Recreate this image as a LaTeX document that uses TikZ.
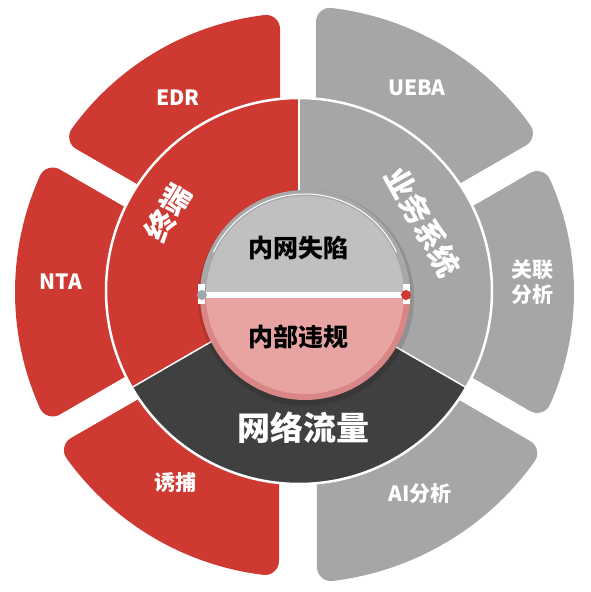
\documentclass[tikz,border=0pt]{standalone}
\usepackage{fontspec}
\newfontfamily\cjk{Noto Sans CJK SC}
\definecolor{petred}{RGB}{206,58,50}
\definecolor{petgray}{RGB}{166,166,166}
\definecolor{ringgray}{RGB}{166,166,166}
\definecolor{ringdark}{RGB}{64,64,64}
\definecolor{topgray}{RGB}{192,192,192}
\definecolor{rimgray}{RGB}{168,168,168}
\definecolor{botpink}{RGB}{232,164,163}
\definecolor{rimpink}{RGB}{218,134,134}
\definecolor{dotgray}{RGB}{160,168,172}
\newcommand\petalshape[6]{%
  \pgfmathsetmacro\petR{#6-14}%
  \pgfmathsetmacro\petA{#2+asin((#3+14)/\petR)}%
  \pgfmathsetmacro\petB{#4-asin((#5+14)/\petR)}%
  \pgfmathsetmacro\petC{#2+asin((#3+14)/170)}%
  \pgfmathsetmacro\petD{#4-asin((#5+14)/170)}%
  \path[petal,fill=#1,draw=#1] (\petC:170) -- (\petA:\petR)
    arc[start angle=\petA,end angle=\petB,radius=\petR]
    -- (\petD:170) arc[start angle=\petD,end angle=\petC,radius=170] -- cycle;}
\begin{document}
\begin{tikzpicture}[x=1pt,y=1pt,
  petal/.style={line width=28pt,line join=round},
  plab/.style={text=white,font=\cjk\bfseries\fontsize{21}{25}\selectfont,align=center,inner sep=0pt},
  rlab/.style={text=white,font=\cjk\bfseries\fontsize{30}{34}\selectfont,inner sep=0pt},
  clab/.style={text=black,font=\cjk\bfseries\fontsize{25}{28}\selectfont,inner sep=0pt},
  sep/.style={white,line width=1.5pt}]
\useasboundingbox (-298,-300) rectangle (292,292);
% outer petals
\petalshape{petred}{90}{18}{150}{13}{279}
\petalshape{petred}{150}{13}{210}{13}{283}
\petalshape{petred}{210}{13}{270}{19}{285}
\petalshape{petgray}{-90}{19}{-30}{13}{291}
\petalshape{petgray}{-30}{13}{30}{13}{276}
\petalshape{petgray}{30}{13}{90}{18}{286}
% ring
\coordinate (rc) at (1,1);
\fill[petred] (rc) -- ++(90:193) arc[start angle=90,end angle=210,radius=193] -- cycle;
\fill[ringdark] (rc) -- ++(210:193) arc[start angle=210,end angle=330,radius=193] -- cycle;
\fill[ringgray] (rc) -- ++(-30:193) arc[start angle=-30,end angle=90,radius=193] -- cycle;
\draw[sep] (rc) -- ++(90:193);
\draw[sep] (rc) -- ++(210:193);
\draw[sep] (rc) -- ++(330:193);
\draw[white,line width=2.5pt] (rc) circle[radius=193];
% inner disc
\coordinate (ic) at (7,-3);
\fill[black,opacity=0.12] (8,-6) circle[radius=108];
\fill[rimgray] (ic) ++(0:105) arc[start angle=0,end angle=180,radius=105] -- cycle;
\fill[rimpink] (ic) ++(180:105) arc[start angle=180,end angle=360,radius=105] -- cycle;
\fill[topgray] (ic) ++(0:99) arc[start angle=0,end angle=180,radius=99] -- cycle;
\fill[botpink] (ic) ++(180:99) arc[start angle=180,end angle=360,radius=99] -- cycle;
\draw[white,line width=1pt] (ic) ++(25:101) arc[start angle=25,end angle=155,radius=101];
\fill[white] (-96,-6) rectangle (108,0);
\fill[white] (-100,-12) rectangle (-93,8);
\fill[white] (105,-12) rectangle (112,8);
\fill[dotgray] (-96,-3) circle[radius=5];
\fill[petred] (108,-3) circle[radius=5];
% labels
\node[clab] (nwsx) at (1,44) {内网失陷};
\node[clab] (nbwg) at (1,-45) {内部违规};
\node[rlab,rotate=59] (zd) at (-130,79) {终端};
\node[rlab,rotate=-61] (ywxt) at (125,70) {业务系统};
\node[rlab,font=\cjk\bfseries\fontsize{33}{36}\selectfont] (wlll) at (6,-136) {网络流量};
\node[plab] (edr) at (-120,194) {EDR};
\node[plab] (ueba) at (119,204) {UEBA};
\node[plab] (nta) at (-237,10) {NTA};
\node[plab] (glfx) at (234,10) {关联\\分析};
\node[plab] (yb) at (-122,-191) {诱捕};
\node[plab] (aifx) at (122,-202) {AI分析};
\end{tikzpicture}
\end{document}
